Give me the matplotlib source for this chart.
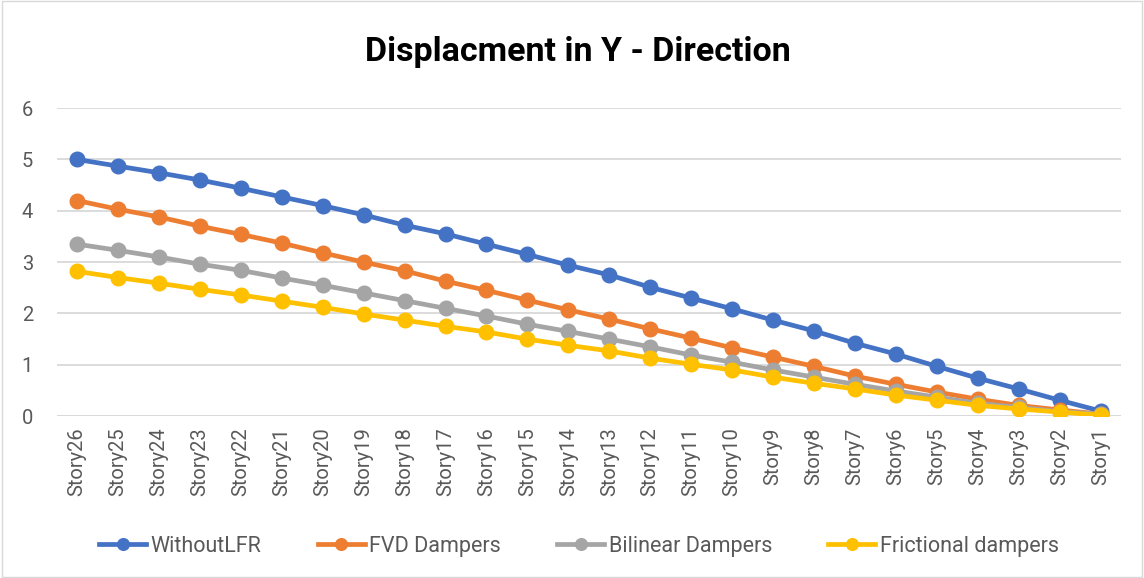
import numpy as np
import matplotlib.pyplot as plt
from matplotlib import font_manager

stories = ["Story%d" % i for i in range(26, 0, -1)]

without_lfr = [5.00, 4.87, 4.74, 4.60, 4.44, 4.27, 4.10, 3.92, 3.72, 3.55, 3.35, 3.15, 2.94,
               2.75, 2.51, 2.30, 2.09, 1.87, 1.66, 1.42, 1.21, 0.97, 0.74, 0.53, 0.31, 0.10]
fvd_dampers = [4.20, 4.03, 3.88, 3.70, 3.54, 3.37, 3.18, 3.00, 2.83, 2.63, 2.45, 2.26, 2.07,
               1.89, 1.70, 1.52, 1.33, 1.15, 0.97, 0.78, 0.62, 0.47, 0.33, 0.21, 0.12, 0.04]
bilinear_dampers = [3.35, 3.23, 3.10, 2.96, 2.84, 2.69, 2.55, 2.40, 2.25, 2.10, 1.95, 1.79, 1.65,
                    1.50, 1.35, 1.19, 1.05, 0.90, 0.76, 0.62, 0.49, 0.37, 0.25, 0.17, 0.09, 0.04]
frictional_dampers = [2.82, 2.70, 2.59, 2.47, 2.36, 2.24, 2.12, 1.99, 1.87, 1.75, 1.64, 1.50, 1.38,
                      1.27, 1.13, 1.01, 0.90, 0.76, 0.64, 0.53, 0.41, 0.31, 0.21, 0.14, 0.08, 0.02]

series = [
    ("WithoutLFR", without_lfr, "#4472C4"),
    ("FVD Dampers", fvd_dampers, "#ED7D31"),
    ("Bilinear Dampers", bilinear_dampers, "#A5A5A5"),
    ("Frictional dampers", frictional_dampers, "#FFC000"),
]

names = {f.name for f in font_manager.fontManager.ttflist}
body_font = "Liberation Sans Narrow" if "Liberation Sans Narrow" in names else "Roboto"

fig = plt.figure(figsize=(11.44, 5.78), dpi=100)
ax = fig.add_axes([0.0494, 0.280, 0.9306, 0.533])

x = np.arange(len(stories))
for label, vals, color in series:
    ax.plot(x, vals, color=color, lw=3.4, marker="o", ms=10.5, label=label)

ax.set_xlim(-0.5, len(stories) - 0.5)
ax.set_ylim(0, 6)
ax.set_yticks(range(0, 7))
ax.set_xticks(x)
ax.set_xticklabels(stories, rotation=90, fontsize=14.5, color="#595959", family=body_font)
for t in ax.get_yticklabels():
    t.set_family(body_font)
    t.set_fontsize(14.5)
    t.set_color("#595959")
ax.tick_params(axis="both", length=0)
ax.tick_params(axis="y", pad=17)
ax.tick_params(axis="x", pad=8)
ax.grid(axis="y", color="#D9D9D9", lw=1.3)
ax.set_axisbelow(True)
for s in ax.spines.values():
    s.set_visible(False)
ax.axhline(0, color="#D9D9D9", lw=1.3, zorder=0)

fig.text(0.505, 0.91, "Displacment in Y - Direction", ha="center", va="center",
         fontsize=24.5, fontweight="bold", family=body_font, color="black")

leg = fig.legend(loc="center", bbox_to_anchor=(0.506, 0.055), ncol=4, frameon=False,
                 prop={"family": body_font, "size": 15.5}, handlelength=2.2,
                 columnspacing=2.6, handletextpad=0.2, markerscale=0.8)
for t in leg.get_texts():
    t.set_color("#595959")

border = plt.Rectangle((0.002, 0.002), 0.996, 0.996, transform=fig.transFigure,
                       fill=False, ec="#D9D9D9", lw=1)
fig.patches.append(border)

fig.savefig("out.png", dpi=100)
